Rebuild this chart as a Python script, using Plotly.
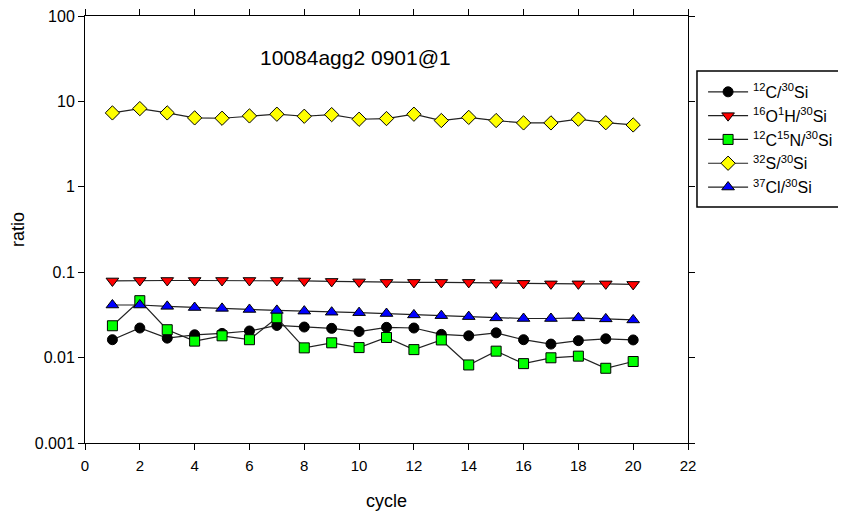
import plotly.graph_objects as go

cycles = list(range(1, 21))
c12_si30 = [0.0162, 0.0222, 0.0169, 0.0185, 0.0192, 0.0205, 0.0238, 0.0228, 0.0220, 0.0202,
            0.0226, 0.0222, 0.0187, 0.0180, 0.0195, 0.0162, 0.0144, 0.0158, 0.0166, 0.0161]
o16h1_si30 = [0.079, 0.080, 0.080, 0.080, 0.080, 0.080, 0.080, 0.079, 0.078, 0.077,
              0.076, 0.076, 0.076, 0.076, 0.075, 0.074, 0.073, 0.073, 0.073, 0.072]
c12n15_si30 = [0.0236, 0.0464, 0.0212, 0.0156, 0.0180, 0.0162, 0.0293, 0.0130, 0.0149, 0.0131,
               0.0172, 0.0124, 0.0161, 0.0082, 0.0119, 0.0085, 0.00995, 0.0104, 0.0075, 0.0090]
s32_si30 = [7.33, 8.24, 7.33, 6.41, 6.35, 6.76, 7.08, 6.70, 7.00, 6.18,
            6.30, 7.08, 5.97, 6.50, 5.97, 5.60, 5.60, 6.20, 5.63, 5.30]
cl37_si30 = [0.0413, 0.0413, 0.0398, 0.0386, 0.0377, 0.0366, 0.0357, 0.0350, 0.0340, 0.0336,
             0.0328, 0.0316, 0.0310, 0.0302, 0.0292, 0.0287, 0.0287, 0.0292, 0.0284, 0.0276]

series_names = ["<sup>12</sup>C/<sup>30</sup>Si", "<sup>16</sup>O<sup>1</sup>H/<sup>30</sup>Si",
                "<sup>12</sup>C<sup>15</sup>N/<sup>30</sup>Si", "<sup>32</sup>S/<sup>30</sup>Si",
                "<sup>37</sup>Cl/<sup>30</sup>Si"]
series_values = [c12_si30, o16h1_si30, c12n15_si30, s32_si30, cl37_si30]
symbols = ["circle", "triangle-down", "square", "diamond", "triangle-up"]
colors = ["#000000", "#ff0000", "#00ff00", "#ffff00", "#0000ff"]
sizes = [10, 11, 10, 11, 11]

y_tickvals = [0.001, 0.01, 0.1, 1, 10, 100]
y_ticktext = ["0.001", "0.01", "0.1", "1", "10", "100"]

fig = go.Figure()
for name, vals, sym, col, sz in zip(series_names, series_values, symbols, colors, sizes):
    fig.add_trace(go.Scatter(
        x=cycles, y=vals, name=name, mode="lines+markers",
        line=dict(color="#222222", width=1.2),
        marker=dict(symbol=sym, color=col, size=sz, line=dict(color="black", width=1)),
    ))

font_family = "Liberation Sans, Arial, sans-serif"
fig.update_layout(
    width=846, height=518,
    margin=dict(l=77, r=166, t=8, b=83),
    plot_bgcolor="white", paper_bgcolor="white",
    font=dict(family=font_family, color="black", size=15),
    showlegend=True,
    legend=dict(x=1.025, xanchor="left", xref="paper", y=0.862, yanchor="top",
                font=dict(size=16), bgcolor="rgba(0,0,0,0)", borderwidth=0,
                itemwidth=40, tracegroupgap=0),
    annotations=[dict(text="10084agg2 0901@1", x=0.448, y=0.902, xref="paper", yref="paper",
                      showarrow=False, font=dict(size=21), xanchor="center", yanchor="middle")],
    shapes=[dict(type="rect", xref="paper", yref="paper", x0=1.0149, x1=1.3, y0=0.5527, y1=0.871,
                 line=dict(color="black", width=1.5))],
)
fig.update_xaxes(range=[0, 22], dtick=2, tick0=0, showgrid=False, zeroline=False,
                 showline=True, linecolor="black", linewidth=1, mirror="ticks",
                 ticks="outside", ticklen=6, tickcolor="black", automargin=False,
                 tickfont=dict(size=15), ticklabelstandoff=3, ticklabeloverflow="allow",
                 title=dict(text="cycle", font=dict(size=18), standoff=21))
fig.update_yaxes(type="log", range=[-3, 2], tickvals=y_tickvals, ticktext=y_ticktext,
                 showgrid=False, zeroline=False,
                 showline=True, linecolor="black", linewidth=1, mirror="ticks",
                 ticks="outside", ticklen=6, tickcolor="black", automargin=False,
                 tickfont=dict(size=16), ticklabeloverflow="allow",
                 title=dict(text="ratio", font=dict(size=18), standoff=5))

fig.write_html("out.html")
